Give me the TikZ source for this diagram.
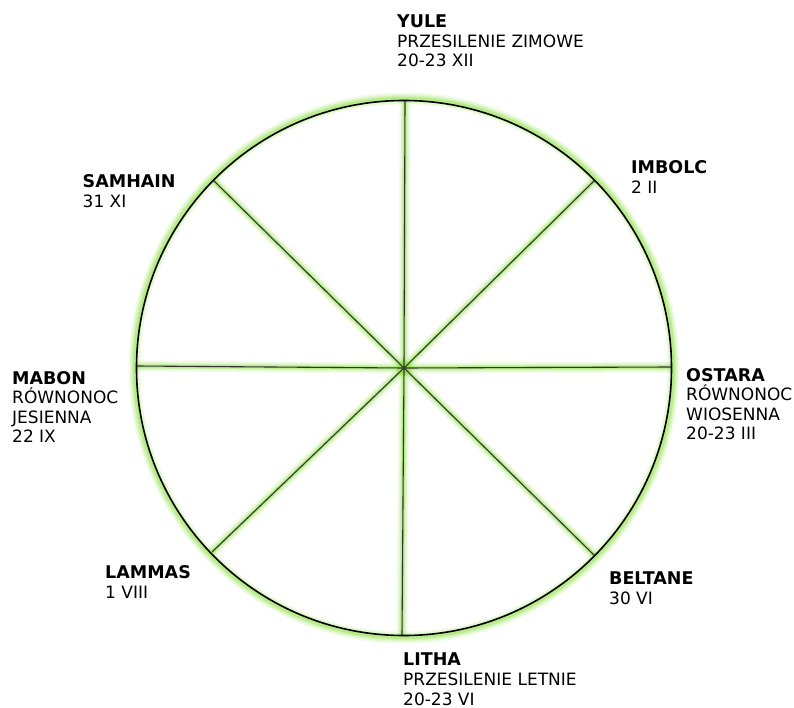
\documentclass[tikz,border=0pt]{standalone}
\usepackage{fontspec}
\setmainfont{DejaVu Sans}
\begin{document}
\begin{tikzpicture}[x=1pt,y=-1pt,
  label/.style={anchor=north west,inner sep=0pt,align=left,
    font=\fontsize{17}{19.6}\selectfont},
  spoke/.style={draw=black!80,line width=1.1pt},
  rim/.style={draw=black,line width=1.6pt}]
\definecolor{glowg}{RGB}{130,220,50}
\useasboundingbox (0,0) rectangle (794,708);
\coordinate (c) at (404,368);
% spoke end points
\coordinate (n) at (405,101);
\coordinate (s) at (402,636);
\coordinate (e) at (671,367);
\coordinate (w) at (137,366);
\coordinate (ne) at (594,181);
\coordinate (nw) at (214,181);
\coordinate (se) at (594,555);
\coordinate (sw) at (212,552);
% glow of rim
\foreach \w/\o in {12/0.10,9/0.14,6/0.2,3/0.3}{
  \draw[glowg,line width=\w pt,opacity=\o] (c) circle[radius=269.5];
}
% glow of spokes
\foreach \w/\o in {11/0.10,8/0.15,5/0.22,3/0.3}{
  \foreach \p in {n,s,e,w,ne,nw,se,sw}{
    \draw[glowg,line width=\w pt,opacity=\o] (c) -- (\p);
  }
}
\fill[glowg,opacity=0.35] (c) circle[radius=8];
\fill[glowg,opacity=0.5] (c) circle[radius=4];
% spokes
\foreach \p in {n,s,e,w,ne,nw,se,sw}{
  \draw[spoke] (c) -- (\p);
}
% rim
\draw[rim] (c) circle[radius=267.5];
% labels
\newcommand{\ttlfont}{\fontsize{17.5}{19.6}\selectfont\bfseries}
\node[label] (yule) at (397,14.5) {{\ttlfont YULE}\\PRZESILENIE ZIMOWE\\20-23 XII};
\node[label] (imbolc) at (631,160.5) {{\ttlfont IMBOLC}\\2 II};
\node[label] (samhain) at (82.5,174.5) {{\ttlfont SAMHAIN}\\31 XI};
\node[label] (mabon) at (12,371) {{\ttlfont MABON}\\RÓWNONOC\\JESIENNA\\22 IX};
\node[label] (ostara) at (686,368) {{\ttlfont OSTARA}\\RÓWNONOC\\WIOSENNA\\20-23 III};
\node[label] (beltane) at (609,571.5) {{\ttlfont BELTANE}\\30 VI};
\node[label] (lammas) at (105,565.5) {{\ttlfont LAMMAS}\\1 VIII};
\node[label] (litha) at (403,653) {{\ttlfont LITHA}\\PRZESILENIE LETNIE\\20-23 VI};
\end{tikzpicture}
\end{document}
